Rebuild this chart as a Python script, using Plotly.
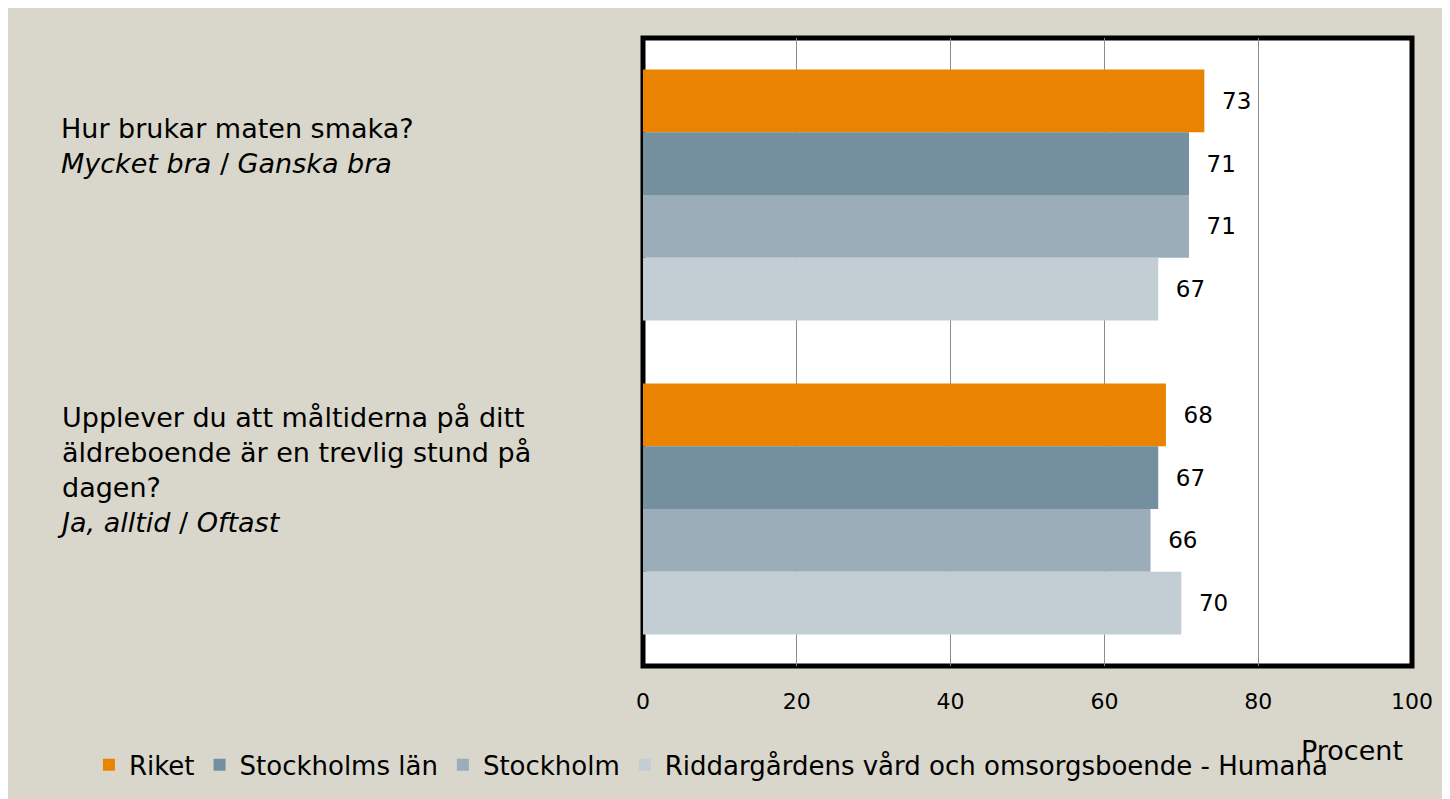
import plotly.graph_objects as go

categories = ["Hur brukar maten smaka?", "Upplever du att måltiderna på ditt äldreboende är en trevlig stund på dagen?"]
category_labels = [
    "Hur brukar maten smaka?<br><i>Mycket bra</i> / <i>Ganska bra</i>",
    "Upplever du att måltiderna på ditt<br>äldreboende är en trevlig stund på<br>dagen?<br><i>Ja, alltid</i> / <i>Oftast</i>",
]
series_names = ["Riket", "Stockholms län", "Stockholm", "Riddargårdens vård och omsorgsboende - Humana"]
riket = [73, 68]
stockholms_lan = [71, 67]
stockholm = [71, 66]
riddargarden = [67, 70]
series_values = [riket, stockholms_lan, stockholm, riddargarden]
colors = ["#E98300", "#748F9D", "#9AADB8", "#C3CDD4"]
x_ticks = [0, 20, 40, 60, 80, 100]

FONT = "DejaVu Sans"
BG = "#D9D7CB"

fig = go.Figure()
for name, vals, col in zip(series_names, series_values, colors):
    fig.add_trace(go.Bar(
        y=categories, x=vals, name=name, orientation="h",
        marker=dict(color=col, line=dict(width=0)),
        text=["\u00a0\u00a0" + str(v) for v in vals],
        textposition="outside", cliponaxis=False,
        textfont=dict(family=FONT, size=23, color="#000000"),
        hoverinfo="x+name",
    ))

# category text blocks at the left
shifts = [49, 39]
xshifts = [0, -4]
for cat, lab, ys, xs in zip(categories, category_labels, shifts, xshifts):
    fig.add_annotation(
        xref="paper", yref="y", x=-0.760, y=cat, text=lab,
        xanchor="left", yanchor="middle", align="left", yshift=ys, xshift=xs,
        showarrow=False, font=dict(family=FONT, size=27, color="#000000"),
    )

fig.add_annotation(
    xref="paper", yref="paper", x=1, y=-0.135, text="Procent",
    xanchor="right", yanchor="middle", xshift=-7, showarrow=False,
    font=dict(family=FONT, size=27, color="#000000"),
)

# framed plot area
fig.add_shape(type="rect", xref="paper", yref="paper", x0=0, x1=1, y0=0, y1=1,
              fillcolor="#FFFFFF", line=dict(color="#000000", width=5), layer="below")

fig.update_layout(
    width=1442, height=791,
    margin=dict(l=635, r=38, t=29.5, b=133, autoexpand=False),
    paper_bgcolor=BG, plot_bgcolor="#FFFFFF",
    barmode="group", bargap=0.2, bargroupgap=0,
    font=dict(family=FONT, color="#000000"),
    showlegend=True,
    legend=dict(
        orientation="h", xref="paper", yref="paper",
        x=-0.7205, y=-0.1575, xanchor="left", yanchor="middle",
        font=dict(family=FONT, size=26, color="#000000"),
        bgcolor="rgba(0,0,0,0)", traceorder="normal",
    ),
    xaxis=dict(
        range=[0, 100], tickvals=x_ticks, ticktext=[str(t) for t in x_ticks],
        showgrid=True, gridcolor="#8C8C8C", gridwidth=1.3, zeroline=False,
        showline=False, ticks="", ticklabelstandoff=20,
        tickfont=dict(family=FONT, size=22, color="#000000"),
    ),
    yaxis=dict(
        autorange="reversed", showticklabels=False, showgrid=False,
        zeroline=False, showline=False, ticks="",
    ),
)

fig.write_html("out.html")
